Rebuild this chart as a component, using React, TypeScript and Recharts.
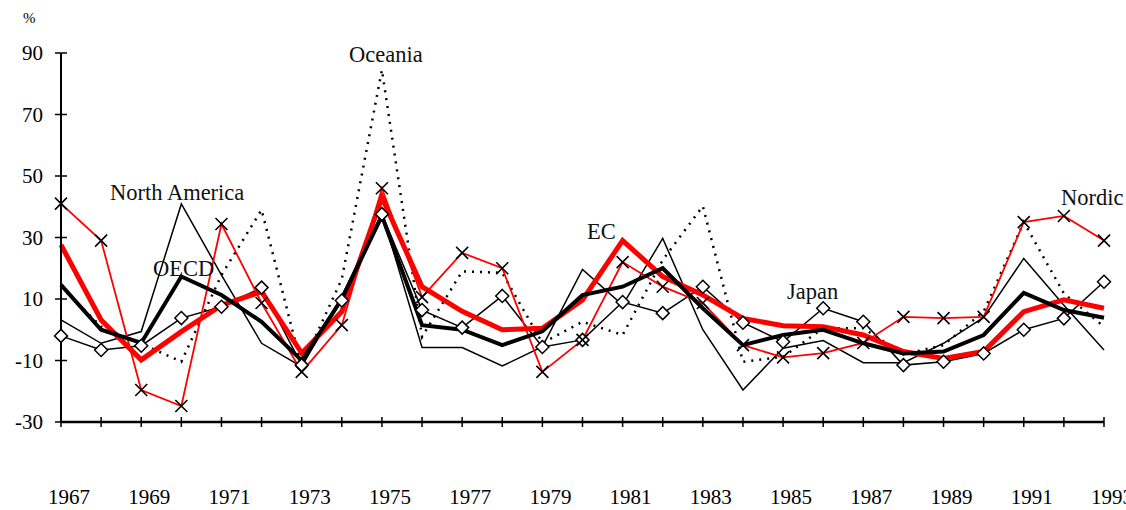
import React from "react";
import { LineChart, Line, XAxis, YAxis } from "recharts";

const years = [
  1967, 1968, 1969, 1970, 1971, 1972, 1973, 1974, 1975, 1976, 1977, 1978, 1979, 1980,
  1981, 1982, 1983, 1984, 1985, 1986, 1987, 1988, 1989, 1990, 1991, 1992, 1993,
];
const yTicks = [-30, -10, 10, 30, 50, 70, 90];

// percent change per year
const oecd = [14.6, 0, -4.3, 17.3, 11.3, 2.6, -10, 10, 37, 1.5, 0, -5, -0.5, 11.3, 14, 20, 7, -5, -1.7, 0, -4.4, -7.7, -7.1, -1.7, 12, 6.4, 3.9];
const ec = [27.6, 3.2, -9.8, -0.6, 8, 12.4, -7.6, 5.9, 43, 14, 6, 0, 0.5, 9.7, 29, 17.3, 11.3, 3.7, 1.3, 1, -1.7, -7.1, -9.3, -7.1, 5.9, 9.7, 7];
const nordic = [41, 29, -19.6, -24.8, 34.4, 8.7, -13.7, 1.5, 46, 10.6, 25, 20, -13.7, -3.3, 22, 14, 8.7, -5, -9, -7.6, -4.3, 4.2, 3.8, 4.2, 35, 37, 29];
const japan = [-2, -6.6, -5.2, 3.8, 7.5, 13.7, -11.5, 9.5, 37.6, 6.4, 0.7, 11, -5.6, -3.3, 9, 5.4, 14, 2.3, -3.9, 7, 2.6, -11.5, -10.4, -7.7, 0, 3.7, 15.6];
const northAmerica = [3.2, -4.4, -0.6, 40.9, 17.8, -4.4, -12, 11, 38, -5.8, -5.8, -11.8, -5.5, 19.6, 8, 29.7, 0, -19.6, -6, -3.5, -10.7, -10.7, -4.4, 4, 23.2, 8, -6.6];
const oceania = [14, 1, -4.5, -10.4, 17.8, 39, -12, 16.5, 84.5, -2.3, 19, 18.5, -4.3, 2.6, -1.7, 22.7, 40.2, -10.4, -8.8, 0.5, 0.5, -8, -5, 5.9, 35, 11.8, 1];

const data = years.map((year, i) => ({
  year,
  oecd: oecd[i],
  ec: ec[i],
  nordic: nordic[i],
  japan: japan[i],
  northAmerica: northAmerica[i],
  oceania: oceania[i],
}));

const labels = [
  { text: "North America", x: 110, y: 192 },
  { text: "OECD", x: 153, y: 268 },
  { text: "Oceania", x: 349, y: 54 },
  { text: "EC", x: 587, y: 231 },
  { text: "Japan", x: 787, y: 291 },
  { text: "Nordic", x: 1061, y: 197 },
];

const FONT = "'Liberation Serif', 'Times New Roman', serif";
const serif = { fontFamily: FONT };

const CrossDot = (props: any) => {
  const { cx, cy, index } = props;
  if (cx == null || cy == null) return null;
  const s = 6;
  return (
    <path
      key={`x-${index}`}
      d={`M${cx - s},${cy - s}L${cx + s},${cy + s}M${cx - s},${cy + s}L${cx + s},${cy - s}`}
      stroke="#000"
      strokeWidth={1.6}
      fill="none"
    />
  );
};

const DiamondDot = (props: any) => {
  const { cx, cy, index } = props;
  if (cx == null || cy == null) return null;
  const s = 6.5;
  return (
    <path
      key={`d-${index}`}
      d={`M${cx},${cy - s}L${cx + s},${cy}L${cx},${cy + s}L${cx - s},${cy}Z`}
      stroke="#000"
      strokeWidth={1.5}
      fill="#fff"
    />
  );
};

const YearTick = (props: any) => {
  const { x, y, payload } = props;
  const yr = payload.value;
  return (
    <g>
      <line x1={x} x2={x} y1={y - 5} y2={y + 5} stroke="#000" strokeWidth={1.5} />
      {yr % 2 === 1 && (
        <text x={x + 8} y={y + 75} textAnchor="middle" dominantBaseline="central" style={serif} fontSize={21} fill="#000">
          {yr}
        </text>
      )}
    </g>
  );
};

const ValueTick = (props: any) => {
  const { x, y, payload } = props;
  return (
    <g>
      <line x1={x - 6} x2={x + 6} y1={y} y2={y} stroke="#000" strokeWidth={1.5} />
      <text x={x - 18} y={y} textAnchor="end" dominantBaseline="central" style={serif} fontSize={21} fill="#000">
        {payload.value}
      </text>
    </g>
  );
};

export default function App() {
  return (
    <div style={{ position: "absolute", left: 0, top: 0, width: 1126, height: 510, background: "#fff", fontFamily: FONT }}>
      <LineChart width={1126} height={510} data={data} margin={{ top: 53, right: 22, bottom: 0, left: 0 }}>
        <XAxis
          dataKey="year"
          type="number"
          domain={[1967, 1993]}
          ticks={years}
          interval={0}
          tick={<YearTick />}
          tickLine={false}
          tickSize={0}
          tickMargin={0}
          height={88}
          axisLine={{ stroke: "#000", strokeWidth: 2.5 }}
        />
        <YAxis
          type="number"
          domain={[-30, 90]}
          ticks={yTicks}
          interval={0}
          tick={<ValueTick />}
          tickLine={false}
          tickSize={0}
          tickMargin={0}
          width={61}
          axisLine={{ stroke: "#000", strokeWidth: 2 }}
        />
        <Line dataKey="oceania" stroke="#000" strokeWidth={2.5} strokeDasharray="2 6" dot={false} isAnimationActive={false} />
        <Line dataKey="northAmerica" stroke="#000" strokeWidth={1.5} dot={false} isAnimationActive={false} />
        <Line dataKey="japan" stroke="#000" strokeWidth={1.5} dot={<DiamondDot />} isAnimationActive={false} />
        <Line dataKey="ec" stroke="#ff0000" strokeWidth={5} dot={false} isAnimationActive={false} />
        <Line dataKey="nordic" stroke="#ff0000" strokeWidth={1.8} dot={<CrossDot />} isAnimationActive={false} />
        <Line dataKey="oecd" stroke="#000" strokeWidth={4} dot={false} isAnimationActive={false} />
      </LineChart>
      <svg width={1126} height={510} style={{ position: "absolute", left: 0, top: 0, pointerEvents: "none" }}>
        <text x={23} y={18} dominantBaseline="central" style={serif} fontSize={15} fill="#000">
          %
        </text>
        {labels.map((l) => (
          <text key={l.text} x={l.x} y={l.y} dominantBaseline="central" style={serif} fontSize={22.5} fill="#111">
            {l.text}
          </text>
        ))}
      </svg>
    </div>
  );
}
